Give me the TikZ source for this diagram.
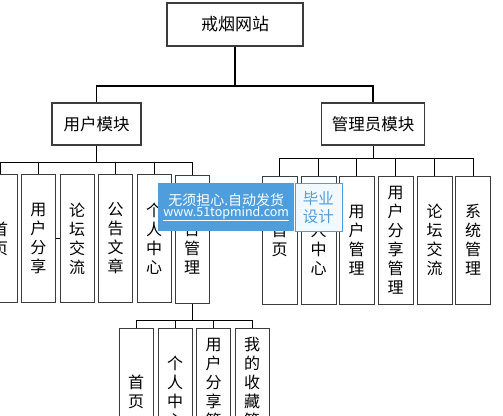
\documentclass[tikz,border=0pt]{standalone}
\usepackage{fontspec}
\setmainfont{Noto Sans CJK SC}
\usetikzlibrary{positioning}
\definecolor{boxLine}{RGB}{60,60,60}
\definecolor{markBlue}{RGB}{78,158,222}
\definecolor{markPale}{RGB}{242,248,255}
\tikzset{
    every node/.append style={align=center},
    rootbox/.style={rectangle,draw=boxLine,line width=1.2pt,fill=white,minimum width=136pt,
        minimum height=43pt,inner sep=0pt,font=\fontsize{17}{19}\selectfont},
    modbox/.style={rectangle,draw=boxLine,line width=1.2pt,fill=white,minimum height=42pt,
        inner sep=0pt,font=\fontsize{16.5}{19}\selectfont},
    leafbox/.style={rectangle,draw=boxLine,line width=1pt,fill=white,minimum width=35pt,
        minimum height=128pt,inner sep=0pt,font=\fontsize{16}{19}\selectfont},
    main/.style={draw=black,line width=1.2pt},
    tree/.style={draw=black,line width=0.8pt},
    stamp/.style={rectangle,inner sep=0pt,minimum height=48pt}
}
\begin{document}
\begin{tikzpicture}[x=1pt,y=-1pt]
    \useasboundingbox (0,0) rectangle (503,415);
    \clip (0,0) rectangle (503,415);
    % top levels
    \node[rootbox] (site)  at (235,24.5) {戒烟网站};
    \node[modbox,minimum width=89pt]  (user)  at (96.5,124) {用户模块};
    \node[modbox,minimum width=103pt] (admin) at (373,124)  {管理员模块};
    % user module
    \node[leafbox,minimum width=34pt] (u1) at (0,238.5)    {首\\页};
    \node[leafbox,minimum width=34pt] (u2) at (38.5,238.5) {用\\户\\分\\享};
    \node[leafbox,minimum width=34pt] (u3) at (77,238.5)   {论\\坛\\交\\流};
    \node[leafbox,minimum width=34pt] (u4) at (115.5,238.5) {公\\告\\文\\章};
    \node[leafbox,minimum width=34pt] (u5) at (154,238.5)  {个\\人\\中\\心};
    \node[leafbox,minimum width=34pt] (u6) at (192,239)    {后\\台\\管\\理};
    % admin module
    \node[leafbox] (a1) at (279.5,240) {首\\页};
    \node[leafbox] (a2) at (318.5,240) {个\\人\\中\\心};
    \node[leafbox] (a3) at (356.5,240) {用\\户\\管\\理};
    \node[leafbox] (a4) at (395.5,240) {用\\户\\分\\享\\管\\理};
    \node[leafbox] (a5) at (434.5,240) {论\\坛\\交\\流};
    \node[leafbox] (a6) at (473,240)   {系\\统\\管\\理};
    % user backend
    \node[leafbox,minimum width=34pt] (b1) at (136,392)   {首\\页};
    \node[leafbox,minimum width=34pt] (b2) at (175,392)   {个\\人\\中\\心};
    \node[leafbox,minimum width=34pt] (b3) at (213.5,392) {用\\户\\分\\享\\管\\理};
    \node[leafbox,minimum width=34pt] (b4) at (252,392)   {我\\的\\收\\藏\\管\\理};

    \coordinate (rbar) at (0,86);
    \coordinate (ubar) at (0,162);
    \coordinate (abar) at (0,158);
    \coordinate (bbar) at (0,320);

    \draw[main] (site.south) -- (site.south |- rbar);
    \draw[main] (user.north) |- (admin.north |- rbar) -- (admin.north);

    \draw[tree] (user.south) -- (user.south |- ubar);
    \draw[tree] (u1.north) |- (u6.north |- ubar) -- (u6.north);
    \foreach \n in {u2,u4,u5}
        \draw[tree] (\n.north) -- (\n.north |- ubar);
    \draw[tree] (u2.east) -- (u3.west);

    \draw[tree] (admin.south) -- (admin.south |- abar);
    \draw[tree] (a1.north) |- (a6.north |- abar) -- (a6.north);
    \foreach \n in {a2,a3,a4,a5}
        \draw[tree] (\n.north) -- (\n.north |- abar);

    \draw[tree] (u6.south) -- (u6.south |- bbar);
    \draw[tree] (b1.north) |- (b4.north |- bbar) -- (b4.north);
    \foreach \n in {b2,b3}
        \draw[tree] (\n.north) -- (\n.north |- bbar);

    % overlay stamp
    \node[stamp,fill=markBlue,text=white,minimum width=136pt,anchor=north west] (mark1) at (158,183)
        {\fontsize{14}{20}\selectfont 无须担心.自动发货\\[-1pt]
         \fontsize{12.5}{14}\selectfont\underline{www.51topmind.com}};
    \node[stamp,fill=markPale,draw=markBlue,line width=0.8pt,text=markBlue,minimum width=47pt,
        anchor=north west,font=\fontsize{15.5}{18}\selectfont] (mark2) at (294.5,183) {毕业\\设计};
\end{tikzpicture}
\end{document}
